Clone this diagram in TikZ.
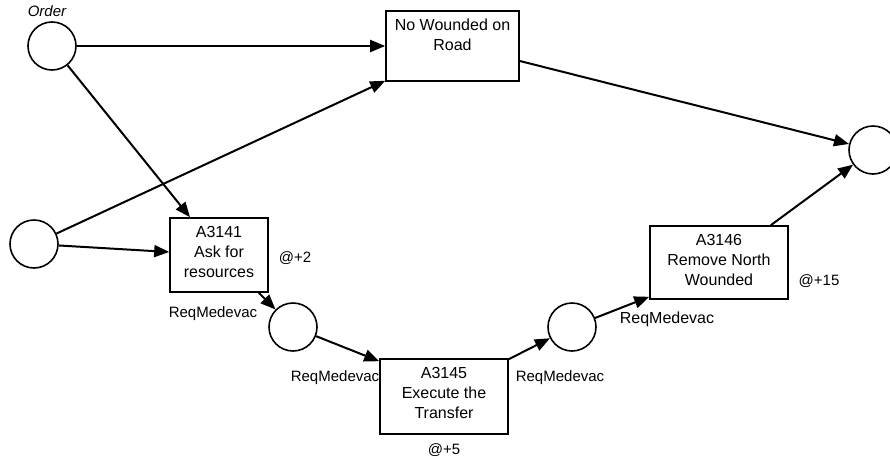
\documentclass[tikz,border=0pt]{standalone}
\usepackage{fontspec}
\setmainfont{Liberation Sans}
\usetikzlibrary{arrows.meta}
\begin{document}
\begin{tikzpicture}[x=1pt,y=-1pt,
  place/.style={draw,circle,line width=1.6pt,minimum size=48pt,inner sep=0pt},
  trans/.style={draw,rectangle,line width=1.6pt,inner sep=0pt},
  boxtext/.style={anchor=north,inner sep=0pt,align=center,font=\fontsize{16}{20}\selectfont,yshift=-8.5pt},
  lbl/.style={anchor=base,inner sep=0pt,font=\fontsize{15}{18}\selectfont},
  arc/.style={line width=2pt,-{Triangle[length=15pt,width=12pt]}}]
\useasboundingbox (0,0) rectangle (890,458);
% places
\node[place] (order) at (52,46) {};
\node[place] (left) at (34,244) {};
\node[place] (c1) at (293,327) {};
\node[place] (c2) at (572,327) {};
\node[place] (r) at (873,150) {};
% transitions
\node[trans,minimum width=133pt,minimum height=70pt] (nw) at (452.5,46) {};
\node[boxtext] (nwt) at (nw.north) {No Wounded on\\Road};
\node[trans,minimum width=98pt,minimum height=74pt] (a3141) at (219,255) {};
\node[boxtext] (a3141t) at (a3141.north) {A3141\\Ask for\\resources};
\node[trans,minimum width=128pt,minimum height=75pt] (a3145) at (444,396.5) {};
\node[boxtext] (a3145t) at (a3145.north) {A3145\\Execute the\\Transfer};
\node[trans,minimum width=138pt,minimum height=73pt] (a3146) at (719,262.5) {};
\node[boxtext] (a3146t) at (a3146.north) {A3146\\Remove North\\Wounded};
% labels
\node[lbl,font=\fontsize{15}{18}\selectfont\itshape] (lorder) at (47,16) {Order};
\node[lbl] (l2) at (295,262) {@+2};
\node[lbl] (lr1) at (213,317) {ReqMedevac};
\node[lbl] (lr2) at (335,381) {ReqMedevac};
\node[lbl] (lr3) at (560,381) {ReqMedevac};
\node[lbl,font=\fontsize{16}{18}\selectfont] (lr4) at (667,323) {ReqMedevac};
\node[lbl] (l5) at (444,454) {@+5};
\node[lbl] (l15) at (819,285) {@+15};
% arcs
\draw[arc] (order) -- (order -| nw.west);
\draw[arc] (order) -- ([xshift=-29pt]a3141.north);
\draw[arc] (left) -- ([yshift=1pt]nw.south west);
\draw[arc] (left) -- ([yshift=3pt]a3141.west);
\draw[arc] ([xshift=-10pt]a3141.south east) -- (c1);
\draw[arc] (c1) -- ([yshift=-3pt]a3145.north west);
\draw[arc] ([yshift=-1pt]a3145.north east) -- (c2);
\draw[arc] (c2) -- ([yshift=3pt]a3146.south west);
\draw[arc] ([xshift=-18pt]a3146.north east) -- (r);
\draw[arc] ([yshift=-15pt]nw.east) -- (r);
\end{tikzpicture}
\end{document}
